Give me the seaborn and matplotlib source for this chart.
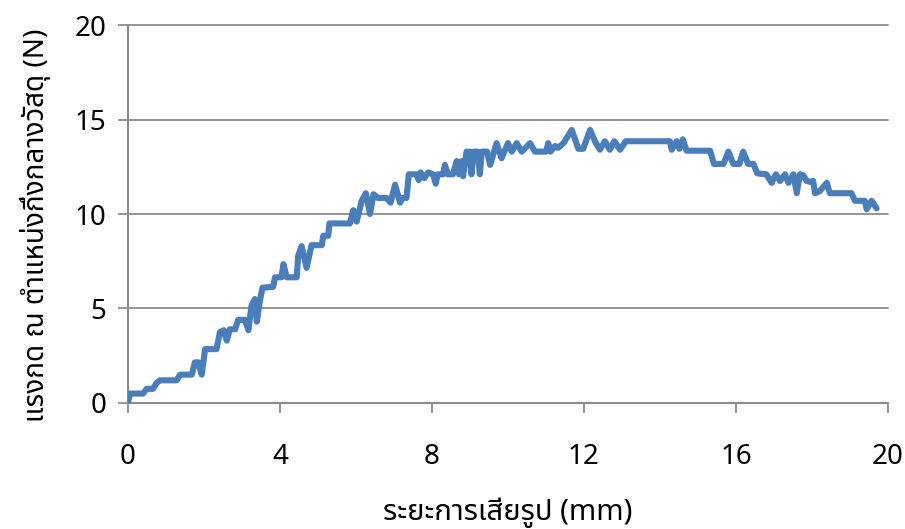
import matplotlib
matplotlib.use("Agg")
import matplotlib.pyplot as plt
from matplotlib import font_manager
import seaborn as sns
import pandas as pd

# ---- data ----
x_mm = [0, 0.05, 0.4, 0.49, 0.66, 0.75, 0.84, 1.28, 1.37, 1.68, 1.76, 1.85, 1.94, 2.03, 2.33,
        2.42, 2.52, 2.6, 2.68, 2.82, 2.9, 3.08, 3.17, 3.25, 3.34, 3.39, 3.47, 3.54, 3.82, 3.87,
        4.04, 4.09, 4.18, 4.44, 4.48, 4.57, 4.7, 4.83, 5.1, 5.14, 5.27, 5.3, 5.84, 5.93, 6.02,
        6.15, 6.26, 6.37, 6.46, 6.58, 6.8, 6.91, 7.03, 7.16, 7.22, 7.33, 7.39, 7.6, 7.65, 7.7,
        7.8, 7.9, 8.03, 8.1, 8.15, 8.29, 8.34, 8.42, 8.55, 8.65, 8.71, 8.78, 8.82, 8.91, 8.99,
        9.04, 9.09, 9.2, 9.26, 9.31, 9.45, 9.53, 9.7, 9.83, 10.0, 10.1, 10.23, 10.36, 10.58,
        10.71, 11.0, 11.06, 11.12, 11.24, 11.32, 11.46, 11.68, 11.85, 11.98, 12.16, 12.3,
        12.42, 12.55, 12.68, 12.8, 12.95, 13.1, 14.26, 14.31, 14.44, 14.51, 14.6, 14.7, 15.32,
        15.42, 15.67, 15.8, 15.93, 16.09, 16.19, 16.32, 16.46, 16.56, 16.8, 16.94, 17.05,
        17.16, 17.29, 17.38, 17.51, 17.6, 17.68, 17.77, 17.86, 17.95, 18.03, 18.08, 18.2,
        18.39, 18.47, 19.04, 19.13, 19.39, 19.44, 19.57, 19.7]
force_n = [0, 0.5, 0.5, 0.75, 0.75, 1.05, 1.2, 1.2, 1.5, 1.5, 2.15, 2.15, 1.5, 2.85, 2.85,
           3.75, 3.85, 3.3, 3.9, 3.9, 4.4, 4.4, 3.85, 5.15, 5.5, 4.3, 5.4, 6.1, 6.15, 6.65,
           6.65, 7.35, 6.65, 6.65, 7.8, 8.3, 7.15, 8.35, 8.35, 8.85, 8.85, 9.5, 9.5, 10.2, 9.6,
           10.7, 11.1, 10.0, 11.05, 10.85, 10.85, 10.6, 11.55, 10.6, 10.85, 10.85, 12.1, 12.1, 11.8, 12.2,
           11.9, 12.2, 12.1, 11.6, 12.1, 12.1, 12.6, 12.1, 12.1, 12.8, 12.1, 12.8, 12.0, 13.3, 13.3,
           12.1, 13.3, 13.3, 12.1, 13.3, 13.3, 12.6, 13.75, 12.95, 13.75, 13.3, 13.75, 13.3, 13.75,
           13.3, 13.3, 13.75, 13.3, 13.6, 13.5, 13.75, 14.45, 13.45, 13.45, 14.45, 13.8,
           13.4, 13.85, 13.4, 13.85, 13.4, 13.85, 13.85, 13.4, 13.85, 13.45, 13.95, 13.35, 13.35,
           12.65, 12.65, 13.3, 12.65, 12.65, 13.3, 12.65, 12.65, 12.15, 12.1, 11.65, 12.1,
           11.75, 12.1, 11.65, 12.1, 11.1, 12.1, 12.05, 11.75, 11.7, 11.75, 11.1, 11.2,
           11.65, 11.1, 11.1, 10.7, 10.7, 10.25, 10.7, 10.3]
x_ticks = [0, 4, 8, 12, 16, 20]
y_ticks = [0, 5, 10, 15, 20]
x_label = "ระยะการเสียรูป (mm)"
y_label = "แรงกด ณ ตำแหน่งกึ่งกลางวัสดุ (N)"


def find_thai_font():
    prefs = ['Noto Sans Thai', 'Noto Sans Thai UI', 'Noto Sans Thai Looped', 'Sarabun',
             'Loma', 'Garuda', 'Waree', 'Umpush', 'Kinnari', 'Norasi', 'Tlwg Typo']
    found = {}
    try:
        from fontTools.ttLib import TTFont
        for f in font_manager.fontManager.ttflist:
            if f.name in found:
                continue
            try:
                tt = TTFont(f.fname, fontNumber=0, lazy=True)
                cmap = tt.getBestCmap()
                if cmap and 0x0E23 in cmap and 0x0E01 in cmap:
                    found[f.name] = f.fname
            except Exception:
                pass
    except Exception:
        pass
    for p in prefs:
        if p in found:
            return p
    return next(iter(found), None)


sns.set_theme(style="white")
thai = find_thai_font()
families = ([thai] if thai else []) + ['DejaVu Sans']
plt.rcParams['font.family'] = families

df = pd.DataFrame({"x": x_mm, "y": force_n})

fig = plt.figure(figsize=(9.05, 5.29), dpi=100)
ax = fig.add_axes([0.1414, 0.2382, 0.8398, 0.7145])

sns.lineplot(data=df, x="x", y="y", ax=ax, sort=False, estimator=None,
             color="#4A7EBB", linewidth=4.4, solid_joinstyle="round",
             solid_capstyle="round", zorder=3)

ax.set_xlim(0, 20)
ax.set_ylim(0, 20)
ax.set_xticks(x_ticks)
ax.set_yticks(y_ticks)
ax.set_xticklabels([str(v) for v in x_ticks])
ax.set_yticklabels([str(v) for v in y_ticks])

grey = "#8C8C8C"
ax.yaxis.grid(True, color=grey, linewidth=1.3)
ax.xaxis.grid(False)
for g in ax.get_ygridlines():
    g.set_clip_on(False)
for s in ["top", "right"]:
    ax.spines[s].set_visible(False)
for s in ["left", "bottom"]:
    ax.spines[s].set_color(grey)
    ax.spines[s].set_linewidth(1.5)

ax.tick_params(axis="both", which="major", direction="out", length=7.5,
               width=1.3, color=grey, labelsize=20, labelcolor="black")
ax.tick_params(axis="y", pad=8)
ax.tick_params(axis="x", pad=21)
ax.tick_params(bottom=True, left=True)

ax.set_xlabel(x_label, fontsize=21, color="black")
ax.set_ylabel(y_label, fontsize=20, color="black")
ax.xaxis.set_label_coords(0.5, -0.29)
ax.xaxis.label.set_va("center")
ax.yaxis.set_label_coords(-0.122, 0.47)
ax.yaxis.label.set_va("center")

fig.savefig("out.png", dpi=100, facecolor="white")
